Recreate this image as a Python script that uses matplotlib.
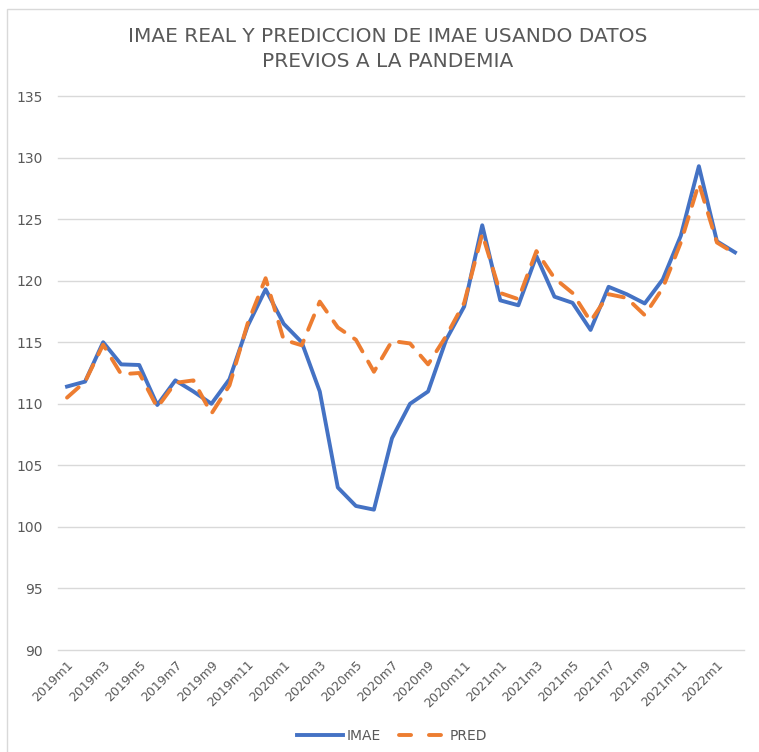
import numpy as np
import matplotlib
matplotlib.use("Agg")
import matplotlib.pyplot as plt
from matplotlib.patches import Rectangle
from matplotlib.lines import Line2D

# datos
meses = []
for anio in [2019, 2020, 2021]:
    for m in range(1, 13):
        meses.append("%dm%d" % (anio, m))
meses += ["2022m1", "2022m2"]

imae = [111.4, 111.8, 115.0, 113.2, 113.15, 109.9, 111.9, 111.0, 110.0, 112.0,
        116.3, 119.3, 116.5, 115.0, 111.0, 103.2, 101.7, 101.4, 107.2, 110.0,
        111.0, 115.2, 117.9, 124.5, 118.4, 118.0, 122.0, 118.7, 118.2, 116.0,
        119.5, 118.9, 118.15, 120.1, 123.65, 129.3, 123.2, 122.3]

pred = [110.5, 111.8, 114.8, 112.4, 112.5, 109.7, 111.7, 111.9, 109.2, 111.5,
        116.5, 120.2, 115.2, 114.75, 118.3, 116.2, 115.2, 112.6, 115.1, 114.9,
        113.2, 115.5, 118.2, 123.8, 119.0, 118.5, 122.4, 120.2, 119.0, 116.7,
        118.9, 118.6, 117.2, 119.4, 123.1, 127.9, 123.1, 122.2]

gris = '#595959'
azul = '#4472C4'
naranja = '#ED7D31'

fig = plt.figure(figsize=(7.59, 7.52), dpi=100)
ax = fig.add_axes([58/759, 1 - 650/752, (744 - 58)/759, (650 - 96)/752])

x = np.arange(len(meses))
ax.plot(x, imae, color=azul, linewidth=2.8, solid_joinstyle='round')
ax.plot(x, pred, color=naranja, linewidth=2.8, dashes=(4, 3), dash_capstyle='round')

ax.set_xlim(-0.5, len(meses) - 0.5)
ax.set_ylim(90, 135)
ax.set_yticks(np.arange(90, 136, 5))
ax.set_xticks(x[::2])
ax.set_xticklabels(meses[::2], rotation=45, ha='right', rotation_mode='anchor')

# sin bordes, solo cuadricula horizontal
for s in ax.spines.values():
    s.set_visible(False)
ax.grid(axis='y', color='#D9D9D9', linewidth=1)
for g in ax.get_ygridlines():
    g.set_clip_on(False)
ax.set_axisbelow(True)
ax.tick_params(axis='both', length=0, colors=gris)
ax.tick_params(axis='y', pad=11, labelsize=10)
ax.tick_params(axis='x', pad=6, labelsize=9)

# titulo
fig.text(388/759, 1 - 49/752, "IMAE REAL Y PREDICCION DE IMAE USANDO DATOS\nPREVIOS A LA PANDEMIA",
         ha='center', va='center', color=gris, fontsize=14.5, linespacing=1.4)

# leyenda
handles = [Line2D([], [], color=azul, linewidth=2.8),
           Line2D([], [], color=naranja, linewidth=2.8, dashes=(3.1, 4.6), dash_capstyle='round')]
leg = ax.legend(handles, ['IMAE', 'PRED'], loc='center', bbox_to_anchor=(392/759, 1 - 736/752),
                bbox_transform=fig.transFigure, ncol=2, frameon=False, fontsize=10,
                handlelength=3.3, handletextpad=0.3, columnspacing=1.3)
for t in leg.get_texts():
    t.set_color(gris)

# borde del grafico
fig.patches.append(Rectangle((7/759, -0.05), 1.1, 1 - 9/752 + 0.05, transform=fig.transFigure,
                             fill=False, edgecolor='#D9D9D9', linewidth=1))

fig.savefig("out.png", dpi=100)
